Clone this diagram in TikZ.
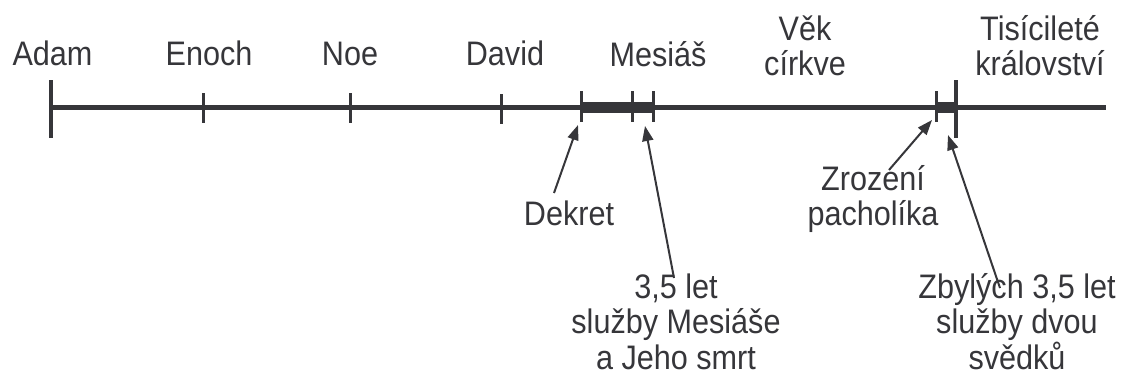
\documentclass[tikz,border=0pt]{standalone}
\usepackage{fontspec}
\setmainfont{Liberation Sans}[FakeStretch=0.90]
\usetikzlibrary{arrows.meta}
\definecolor{ink}{RGB}{54,54,58}
\begin{document}
\begin{tikzpicture}[x=1pt,y=-1pt,
  lbl/.style={text=ink,inner sep=0pt,anchor=base,align=center,
    font=\fontsize{34}{35.5}\selectfont},
  tline/.style={draw=ink,line width=5pt},
  tbar/.style={draw=ink,line width=11pt},
  tick/.style={draw=ink,line width=3pt},
  bigtick/.style={draw=ink,line width=4pt},
  ptr/.style={draw=ink,line width=2pt,-{Triangle[length=15pt,width=11pt]}}]
\useasboundingbox (0,0) rectangle (1127,376);
% main line
\coordinate (L0) at (49,107.5);
\coordinate (L1) at (1106,107.5);
\draw[tline] (L0) -- (L1);
% thick segments
\coordinate (m0) at (581,107.5); \coordinate (m1) at (653,107.5);
\coordinate (w0) at (936,107.5); \coordinate (w1) at (956,107.5);
\draw[tbar] (m0) -- (m1);
\draw[tbar] (w0) -- (w1);
% ticks
\draw[bigtick] (51,80) -- (51,138);
\draw[tick] (203,93) -- (203,123);
\draw[tick] (350,93) -- (350,123);
\draw[tick] (501,94) -- (501,124);
\draw[tick] (581,91) -- (581,122);
\draw[tick] (632,91) -- (632,122);
\draw[tick] (653,91) -- (653,122);
\draw[tick] (936,91) -- (936,122);
\draw[bigtick] (956,80) -- (956,138);
% top labels (base anchor = baseline of last line)
\node[lbl] (adam) at (52.5,65) {Adam};
\node[lbl] (enoch) at (209,65) {Enoch};
\node[lbl] (noe) at (350,65) {Noe};
\node[lbl] (david) at (505,65) {David};
\node[lbl] (mesias) at (658,66) {Mesiáš};
\node[lbl] (vek) at (805,75.5) {Věk\\církve};
\node[lbl] (tisic) at (1040,75.5) {Tisícileté\\království};
% bottom labels
\node[lbl] (dekret) at (569,225) {Dekret};
\node[lbl] (zrozeni) at (873,225.5) {Zrození\\pacholíka};
\node[lbl] (sluzba) at (676,369) {3,5 let\\služby Mesiáše\\a Jeho smrt};
\node[lbl] (zbylych) at (1017,369) {Zbylých 3,5 let\\služby dvou\\svědků};
% arrows
\coordinate (dkT) at (554,193); \coordinate (dkH) at (578,125);
\coordinate (slT) at (674,278); \coordinate (slH) at (645,126);
\coordinate (zrT) at (889,170); \coordinate (zrH) at (932,120);
\coordinate (zbT) at (1000,288); \coordinate (zbH) at (948,135);
\draw[ptr] (dkT) -- (dkH);
\draw[ptr] (slT) -- (slH);
\draw[ptr] (zrT) -- (zrH);
\draw[ptr] (zbT) -- (zbH);
\end{tikzpicture}
\end{document}
